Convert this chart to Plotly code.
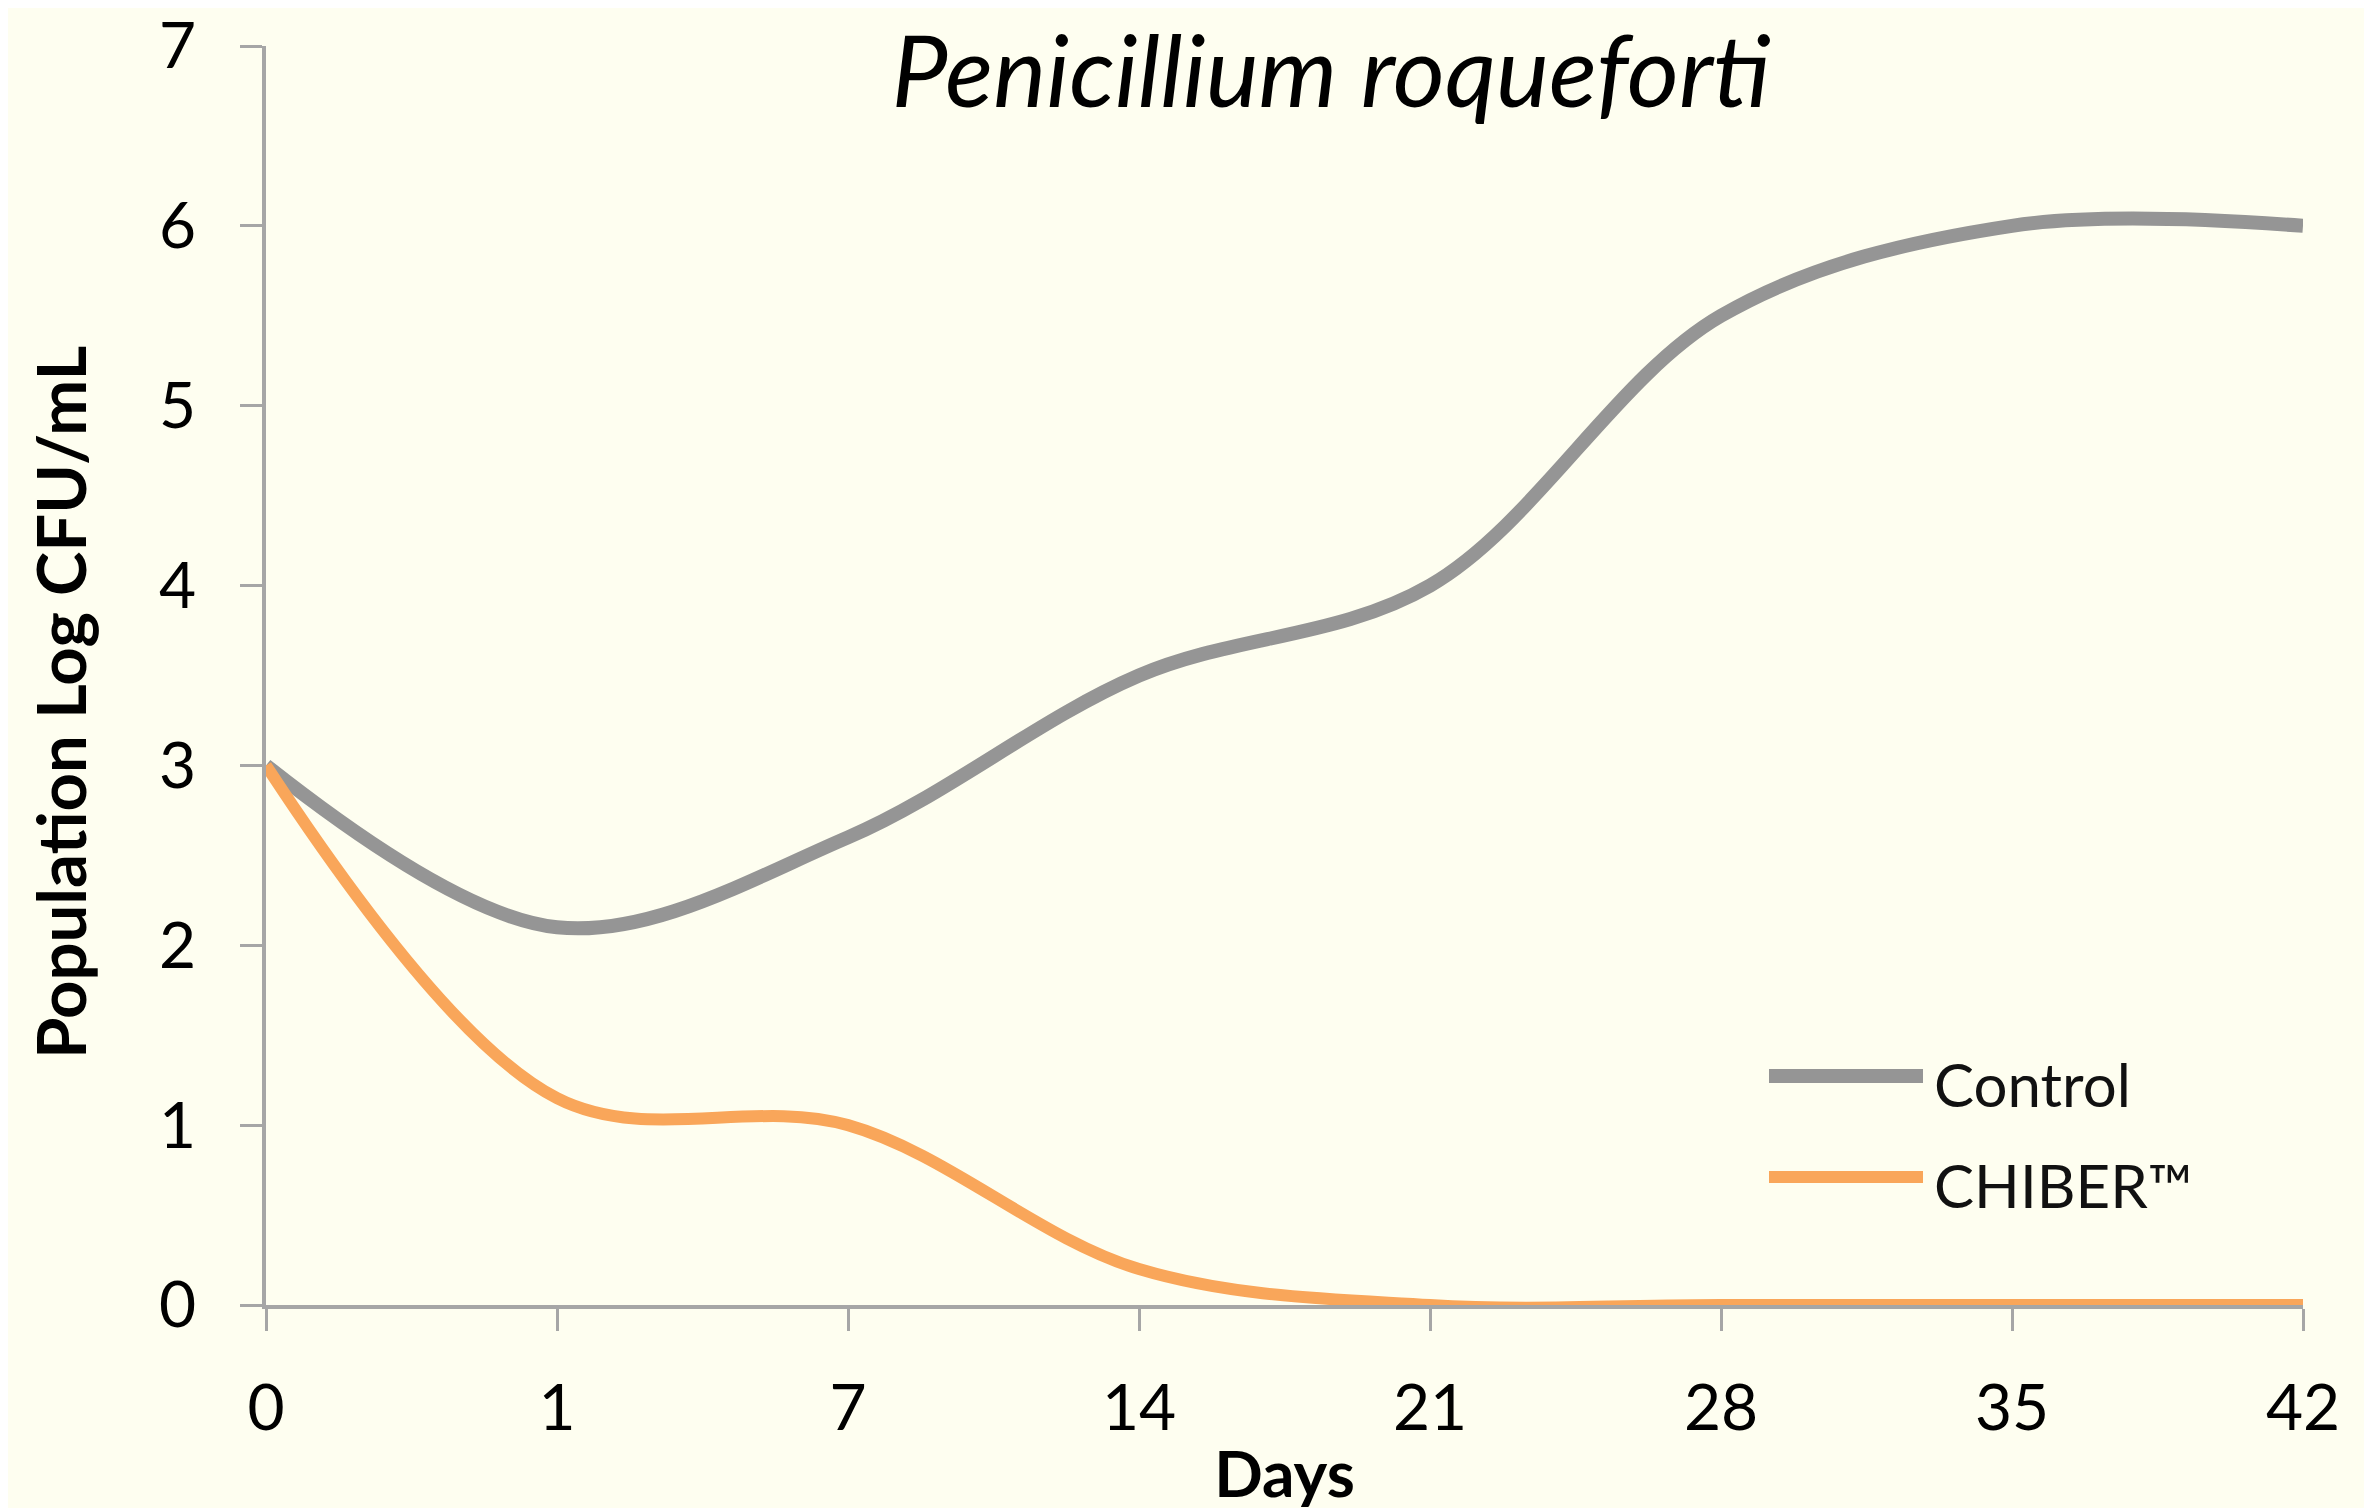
import plotly.graph_objects as go

days = ["0", "1", "7", "14", "21", "28", "35", "42"]
control = [3.0, 2.1, 2.6, 3.5, 4.0, 5.5, 6.0, 6.0]
chiber = [3.0, 1.15, 1.0, 0.2, 0.0, 0.0, 0.0, 0.0]
series_names = ["Control", "CHIBER™"]
series_colors = ["#959595", "#F9A65A"]
series_widths = [14, 12]

W, H = 2372, 1508
OFF = 8  # default page body margin
# target plot area in page pixels: x 266..2303, y 46..1305
L = 266 - OFF
T = 46 - OFF
R = W - (2303 - OFF)
B = H - (1305 - OFF)
BG = "#FEFEF0"
AX = "#A6A6A6"
FONT = "Lato"

fig = go.Figure()
for name, vals, col, lw in zip(series_names, [control, chiber], series_colors, series_widths):
    fig.add_trace(go.Scatter(
        x=days, y=vals, mode="lines", name=name,
        line=dict(color=col, width=lw, shape="spline", smoothing=1.0),
        cliponaxis=False, showlegend=False,
    ))

pw = W - L - R
ph = H - T - B
def px_x(px):
    return (px - OFF - L) / pw
def px_y(py):
    return (H - B - (py - OFF)) / ph

# custom legend (long sample lines like the original)
leg_rows_px = [1076, 1177]
for name, col, ypx, lw in zip(series_names, series_colors, leg_rows_px, series_widths):
    fig.add_shape(type="line", xref="paper", yref="paper",
                  x0=px_x(1769), x1=px_x(1923), y0=px_y(ypx), y1=px_y(ypx),
                  line=dict(color=col, width=lw))
    fig.add_annotation(xref="paper", yref="paper", x=px_x(1932), y=px_y(ypx + 8),
                       xanchor="left", yanchor="middle", text=name, showarrow=False,
                       font=dict(family=FONT, size=60, color="#111111"))

# y-axis title (placed like the original, slightly below the plot centre)
fig.add_annotation(xref="paper", yref="paper", x=px_x(60), y=px_y(703),
                   xanchor="center", yanchor="middle", textangle=-90, showarrow=False,
                   text="Population Log CFU/mL",
                   font=dict(family=FONT, size=67, weight="bold", color="#000000"))

fig.update_layout(
    width=W, height=H,
    margin=dict(l=L, r=R, t=T, b=B, autoexpand=False),
    paper_bgcolor=BG, plot_bgcolor=BG,
    title=dict(text="Penicillium roqueforti", x=(1331 - OFF) / W, xref="container", xanchor="center",
               y=1 - (72 - OFF) / H, yref="container", yanchor="middle",
               font=dict(family=FONT, size=100, style="italic", color="#000000")),
    font=dict(family=FONT, color="#000000"),
)
fig.update_xaxes(
    type="category", range=[0, 7], showgrid=False, zeroline=False, automargin=False,
    showline=True, linecolor=AX, linewidth=4,
    ticks="outside", ticklen=22, tickwidth=3, tickcolor=AX,
    tickfont=dict(family=FONT, size=64, color="#000000"), ticklabelstandoff=22,
    ticklabeloverflow="allow",
    title=dict(text="Days", standoff=10, font=dict(family=FONT, size=64, weight="bold", color="#000000")),
)
fig.update_yaxes(
    range=[0, 7], dtick=1, showgrid=False, zeroline=False, automargin=False,
    showline=True, linecolor=AX, linewidth=4,
    ticks="outside", ticklen=22, tickwidth=3, tickcolor=AX,
    tickfont=dict(family=FONT, size=64, color="#000000"), ticklabelstandoff=31,
    ticklabeloverflow="allow",
)

fig.write_html("out.html")
